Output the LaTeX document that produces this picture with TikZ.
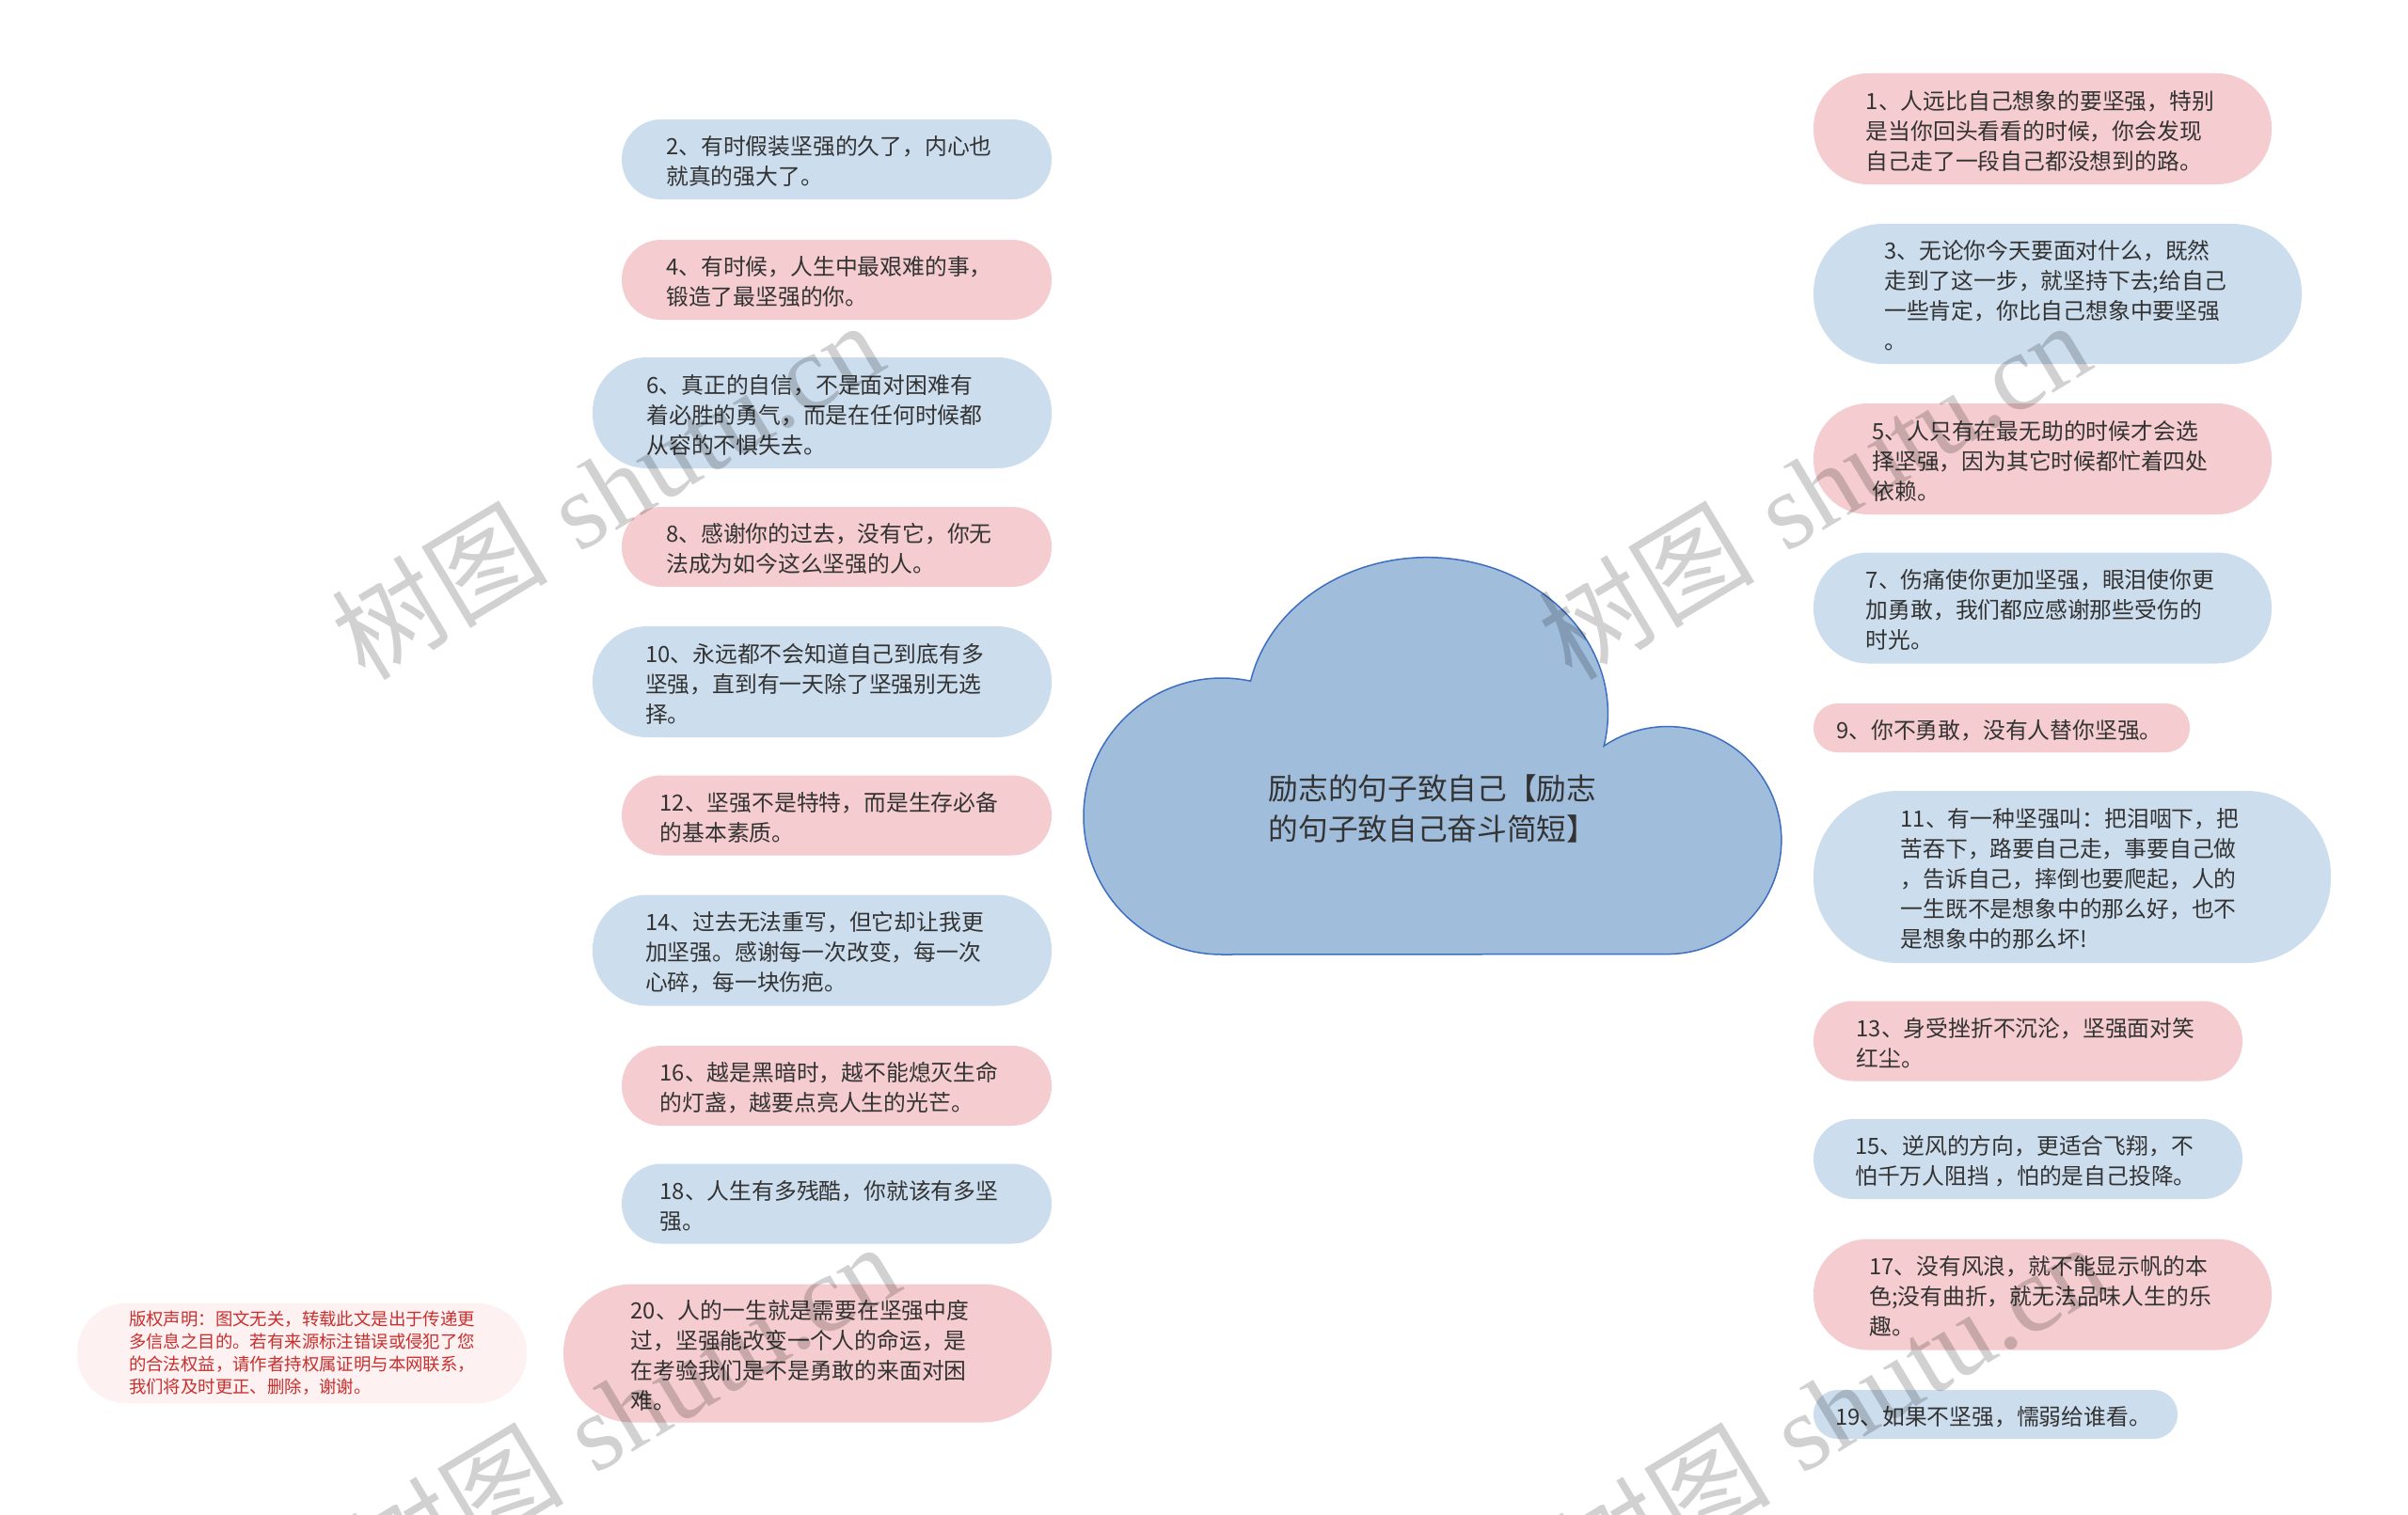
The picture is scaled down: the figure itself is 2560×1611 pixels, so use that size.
\documentclass[tikz,border=0pt]{standalone}
\usepackage{fontspec}
\setmainfont{Noto Sans CJK SC}
\newfontfamily\cjkfont{Noto Sans CJK SC}
\newfontfamily\wmlatin{Liberation Serif}
\usetikzlibrary{calc}
\pgfdeclarelayer{background}
\pgfdeclarelayer{overlay}
\pgfsetlayers{background,main,overlay}
\definecolor{pinkfill}{HTML}{F5CCCF}
\definecolor{bluefill}{HTML}{CCDDEE}
\definecolor{pinkline}{HTML}{F2BFC4}
\definecolor{blueline}{HTML}{C3D6EA}
\definecolor{cloudfill}{HTML}{A0BEDC}
\definecolor{cloudline}{HTML}{3D6EC0}
\definecolor{txt}{HTML}{333333}
\definecolor{cpfill}{HTML}{FDF1F1}
\definecolor{cptext}{HTML}{C8302E}
\newcommand\tbl[1]{\begin{tabular}{@{}l@{\kern16pt}}\rule{0pt}{32pt}#1\end{tabular}}
\newcommand\tbr[1]{\begin{tabular}{@{}l@{\kern5pt}}\rule{0pt}{32pt}#1\end{tabular}}
\begin{document}
\begin{tikzpicture}[x=1pt,y=-1pt,
  nodebase/.style={inner sep=0pt, text=txt, font=\fontsize{23.8}{32}\selectfont},
  pbox/.style={nodebase, fill=pinkfill},
  bbox/.style={nodebase, fill=bluefill},
  sz/.style n args={3}{minimum width=#1pt, minimum height=#2pt, rounded corners=#3pt},
  pline/.style={draw=pinkline, line width=3pt, line cap=round},
  bline/.style={draw=blueline, line width=3pt, line cap=round},
  wm/.style={text=black, text opacity=0.18, inner sep=0pt, rotate=31, font=\fontsize{115}{115}\selectfont}]
\useasboundingbox (0,0) rectangle (2560,1611);
\fill[white] (0,0) rectangle (2560,1611);

% cloud (root)
\path[fill=cloudfill, draw=cloudline, line width=1.5pt]
  (1299,1015) arc[start angle=90, end angle=282, radius=147]
  arc[start angle=192, end angle=372, x radius=192, y radius=166]
  arc[start angle=236, end angle=450, radius=121] -- cycle;
\node[align=left, text=txt, inner sep=0pt, font=\fontsize{31.7}{42.5}\selectfont] (root) at (1523,860) {励志的句子致自己【励志\\的句子致自己奋斗简短】};
\coordinate (rootL) at (1152,805);
\coordinate (rootR) at (1892,805);

% left nodes
\node[bbox, sz={457}{85}{42}] (n2) at (889.5,169.5) {\tbl{2、有时假装坚强的久了，内心也\\就真的强大了。}};
\node[pbox, sz={457}{85}{42}] (n4) at (889.5,297.5) {\tbl{4、有时候，人生中最艰难的事，\\锻造了最坚强的你。}};
\node[bbox, sz={488}{118}{58}] (n6) at (874,439) {\tbl{6、真正的自信，不是面对困难有\\着必胜的勇气，而是在任何时候都\\从容的不惧失去。}};
\node[pbox, sz={457}{85}{42}] (n8) at (889.5,581.5) {\tbl{8、感谢你的过去，没有它，你无\\法成为如今这么坚强的人。}};
\node[bbox, sz={488}{118}{58}] (n10) at (874,725) {\tbl{10、永远都不会知道自己到底有多\\坚强，直到有一天除了坚强别无选\\择。}};
\node[pbox, sz={457}{85}{42}] (n12) at (889.5,867) {\tbl{12、坚强不是特特，而是生存必备\\的基本素质。}};
\node[bbox, sz={488}{118}{58}] (n14) at (874,1010.5) {\tbl{14、过去无法重写，但它却让我更\\加坚强。感谢每一次改变，每一次\\心碎，每一块伤疤。}};
\node[pbox, sz={457}{85}{42}] (n16) at (889.5,1154.5) {\tbl{16、越是黑暗时，越不能熄灭生命\\的灯盏，越要点亮人生的光芒。}};
\node[bbox, sz={457}{85}{42}] (n18) at (889.5,1280) {\tbl{18、人生有多残酷，你就该有多坚\\强。}};
\node[pbox, sz={519}{147}{73}] (n20) at (858.5,1439) {\tbl{20、人的一生就是需要在坚强中度\\过，坚强能改变一个人的命运，是\\在考验我们是不是勇敢的来面对困\\难。}};
\node[fill=cpfill, sz={478}{106}{52}, inner sep=0pt, align=left, text=cptext, font=\fontsize{18.4}{24}\selectfont] (cp) at (321,1439) {版权声明：图文无关，转载此文是出于传递更\\多信息之目的。若有来源标注错误或侵犯了您\\的合法权益，请作者持权属证明与本网联系，\\我们将及时更正、删除，谢谢。};

% right nodes
\node[pbox, sz={487}{118}{58}] (n1) at (2171.5,137) {\tbr{1、人远比自己想象的要坚强，特别\\是当你回头看看的时候，你会发现\\自己走了一段自己都没想到的路。}};
\node[bbox, sz={519}{149}{74}] (n3) at (2187.5,312.5) {\tbr{3、无论你今天要面对什么，既然\\走到了这一步，就坚持下去;给自己\\一些肯定，你比自己想象中要坚强\\。}};
\node[pbox, sz={487}{118}{58}] (n5) at (2171.5,488) {\tbr{5、人只有在最无助的时候才会选\\择坚强，因为其它时候都忙着四处\\依赖。}};
\node[bbox, sz={487}{118}{58}] (n7) at (2171.5,646.5) {\tbr{7、伤痛使你更加坚强，眼泪使你更\\加勇敢，我们都应感谢那些受伤的\\时光。}};
\node[pbox, sz={400}{52}{25.5}] (n9) at (2128,774) {\tbr{9、你不勇敢，没有人替你坚强。}};
\node[bbox, sz={550}{183}{90}] (n11) at (2203,932.5) {\tbr{11、有一种坚强叫：把泪咽下，把\\苦吞下，路要自己走，事要自己做\\，告诉自己，摔倒也要爬起，人的\\一生既不是想象中的那么好，也不\\是想象中的那么坏!}};
\node[pbox, sz={456}{85}{42}] (n13) at (2156,1107) {\tbr{13、身受挫折不沉沦，坚强面对笑\\红尘。}};
\node[bbox, sz={456}{85}{42}] (n15) at (2156,1232.5) {\tbr{15、逆风的方向，更适合飞翔，不\\怕千万人阻挡 ，怕的是自己投降。}};
\node[pbox, sz={487}{118}{58}] (n17) at (2171.5,1376.5) {\tbr{17、没有风浪，就不能显示帆的本\\色;没有曲折，就无法品味人生的乐\\趣。}};
\node[bbox, sz={387}{52}{25.5}] (n19) at (2121.5,1504) {\tbr{19、如果不坚强，懦弱给谁看。}};

% connectors
\begin{pgfonlayer}{background}
\foreach \nd/\st in {n2/bline,n4/pline,n6/bline,n8/pline,n10/bline,n12/pline,n14/bline,n16/pline,n18/bline,n20/pline}{
  \draw[\st] let \p1=(\nd.east), \p2=(rootL) in
    (\p1) .. controls ({\x1+0.5*(\x2-\x1)},{\y1+0.2*(\y2-\y1)}) and ({\x2-0.05*(\x2-\x1)},{\y2-0.5*(\y2-\y1)}) .. (\p2);
}
\foreach \nd/\st in {n1/pline,n3/bline,n5/pline,n7/bline,n9/pline,n11/bline,n13/pline,n15/bline,n17/pline,n19/bline}{
  \draw[\st] let \p1=(\nd.west), \p2=(rootR) in
    (\p1) .. controls ({\x1+0.5*(\x2-\x1)},{\y1+0.2*(\y2-\y1)}) and ({\x2-0.05*(\x2-\x1)},{\y2-0.5*(\y2-\y1)}) .. (\p2);
}
\draw[pline] (cp.east) -- (n20.west);
\end{pgfonlayer}

% watermarks
\begin{pgfonlayer}{overlay}
\node[wm] (wm1) at (645,520) {树图\hspace{0.3em}{\wmlatin shutu.cn}};
\node[wm] (wm2) at (1928,520) {树图\hspace{0.3em}{\wmlatin shutu.cn}};
\node[wm] (wm3) at (662,1500) {树图\hspace{0.3em}{\wmlatin shutu.cn}};
\node[wm] (wm4) at (1945,1500) {树图\hspace{0.3em}{\wmlatin shutu.cn}};
\end{pgfonlayer}
\end{tikzpicture}
\end{document}
